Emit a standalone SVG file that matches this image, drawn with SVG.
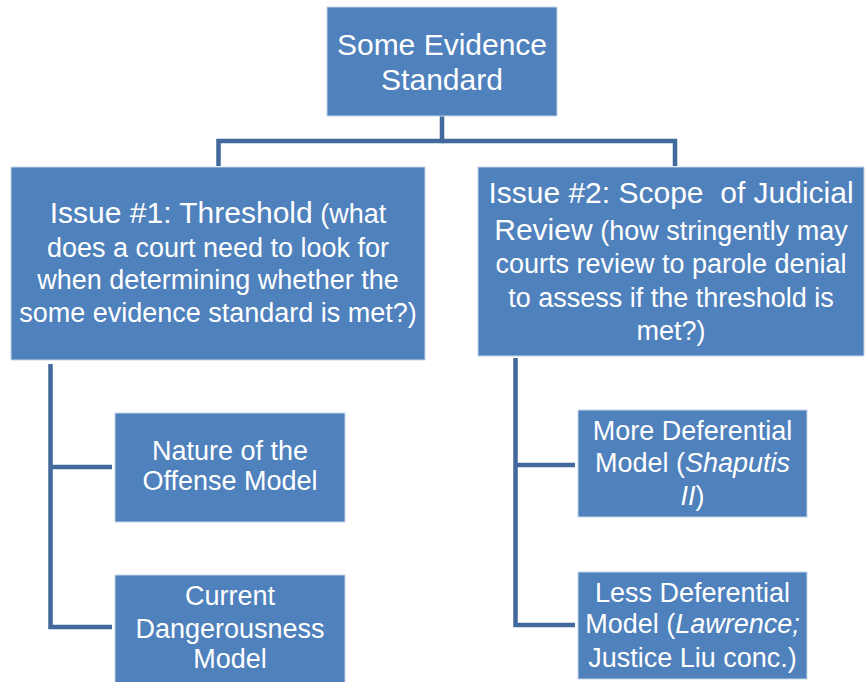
<svg xmlns="http://www.w3.org/2000/svg" width="867" height="682" viewBox="0 0 867 682">
<style>
.box{fill:#4F81BD;stroke:#C6D5E9;stroke-width:1}
.t{font-family:"Liberation Sans",Arial,sans-serif;fill:#FFFFFF;text-anchor:middle}
.big{font-size:30px}
.mid{font-size:27px}
.conn{fill:none;stroke:#41699C;stroke-width:4.5;stroke-linejoin:miter}
</style>
<rect width="867" height="682" fill="#FFFFFF"/>
<g id="connectors">
<path class="conn" d="M442,116 V141 H218.5 V166"/>
<path class="conn" d="M442,141 H675 V166"/>
<path class="conn" d="M50.5,364 V627 H112"/>
<path class="conn" d="M50.5,467 H112"/>
<path class="conn" d="M515.5,358 V625 H575"/>
<path class="conn" d="M515.5,465 H575"/>
</g>
<g id="root">
<rect class="box" x="327" y="7" width="230" height="109"/>
<text class="t big" x="442" y="55">Some Evidence</text>
<text class="t big" x="442" y="90">Standard</text>
</g>
<g id="issue1">
<rect class="box" x="11" y="167" width="414" height="193"/>
<text class="t mid" x="218" y="223"><tspan font-size="30">Issue #1: Threshold</tspan> (what</text>
<text class="t mid" x="218" y="257">does a court need to look for</text>
<text class="t mid" x="218" y="289">when determining whether the</text>
<text class="t mid" x="218" y="322">some evidence standard is met?)</text>
</g>
<g id="issue2">
<rect class="box" x="478" y="167" width="386" height="189"/>
<text class="t big" x="671" y="203">Issue #2: Scope&#160; of Judicial</text>
<text class="t mid" x="671" y="240"><tspan font-size="30">Review</tspan> (how stringently may</text>
<text class="t mid" x="671" y="273">courts review to parole denial</text>
<text class="t mid" x="671" y="307">to assess if the threshold is</text>
<text class="t mid" x="671" y="340">met?)</text>
</g>
<g id="nature">
<rect class="box" x="115" y="413" width="230" height="109"/>
<text class="t mid" x="230" y="460">Nature of the</text>
<text class="t mid" x="230" y="490">Offense Model</text>
</g>
<g id="current">
<rect class="box" x="115" y="575" width="230" height="108"/>
<text class="t mid" x="230" y="605">Current</text>
<text class="t mid" x="230" y="638">Dangerousness</text>
<text class="t mid" x="230" y="668">Model</text>
</g>
<g id="more">
<rect class="box" x="578" y="410" width="229" height="107"/>
<text class="t mid" x="692.5" y="440">More Deferential</text>
<text class="t mid" x="692.5" y="472">Model (<tspan font-style="italic">Shaputis</tspan></text>
<text class="t mid" x="692.5" y="505"><tspan font-style="italic">II</tspan>)</text>
</g>
<g id="less">
<rect class="box" x="578" y="572" width="229" height="107"/>
<text class="t mid" x="692.5" y="602">Less Deferential</text>
<text class="t mid" x="692.5" y="633">Model (<tspan font-style="italic">Lawrence;</tspan></text>
<text class="t mid" x="692.5" y="667">Justice Liu conc.)</text>
</g>
</svg>
